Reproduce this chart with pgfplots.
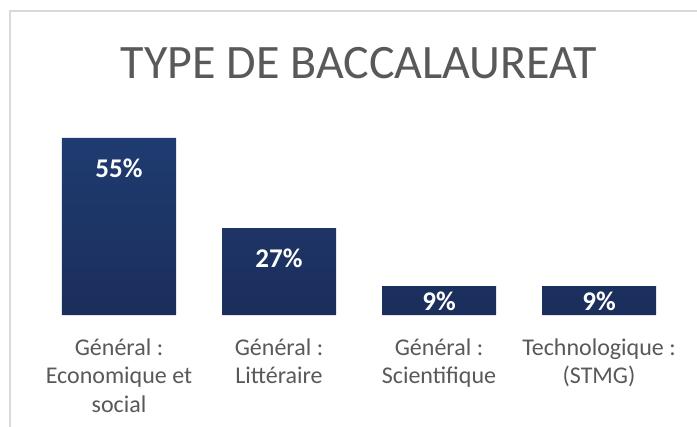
\documentclass[border=0pt]{standalone}
\usepackage{fontspec}
\setmainfont{Carlito}
\usepackage{pgfplots}
\pgfplotsset{compat=1.18}
\usepackage{pgfplotstable}
\definecolor{barA}{HTML}{1F3B70}
\definecolor{barB}{HTML}{1B2E5C}
\definecolor{txt}{HTML}{595959}
\definecolor{frame}{HTML}{D9D9D9}
\pgfplotstableread{
x y off
0 55 30
1 27 30
2 9 15
3 9 15
}\data
\begin{document}
\begin{tikzpicture}
\useasboundingbox (0,0) rectangle (697bp,427bp);
\fill[white] (0,0) rectangle (697bp,427bp);
\draw[frame, line width=1.5bp] (10bp,0) -- (10bp,416bp) -- (697bp,416bp);
\begin{axis}[
 at={(39bp,112bp)}, anchor=south west,
 scale only axis, width=640bp, height=193.2bp,
 xmin=-0.5, xmax=3.5, ymin=0, ymax=60,
 axis line style={draw=none},
 ymajorticks=false,
 xtick={0,1,2,3},
 major tick length=0pt,
 xticklabels={{Général :\\Economique et\\social},{Général :\\Littéraire},{Général :\\Scientifique},{Technologique :\\(STMG)}},
 xticklabel style={align=center, anchor=north, font=\fontsize{24bp}{28.5bp}\selectfont, text=txt, yshift=-20bp},
 title={TYPE DE BACCALAUREAT},
 title style={at={(axis description cs:0.5,1.275)}, anchor=center, font=\fontsize{48bp}{56bp}\selectfont, text=txt},
 clip=false,
]
\addplot[ybar, bar width=114bp, draw=none, top color=barA, bottom color=barB,
 visualization depends on=\thisrow{off} \as \myoff,
 nodes near coords={\pgfmathprintnumber[assume math mode=true]{\pgfplotspointmeta}\%},
 point meta=y,
 nodes near coords style={anchor=center, yshift={-\myoff*1bp}, text=white, font=\bfseries\fontsize{27bp}{30bp}\selectfont},
] table[x=x,y=y] {\data};
\end{axis}
\end{tikzpicture}
\end{document}
